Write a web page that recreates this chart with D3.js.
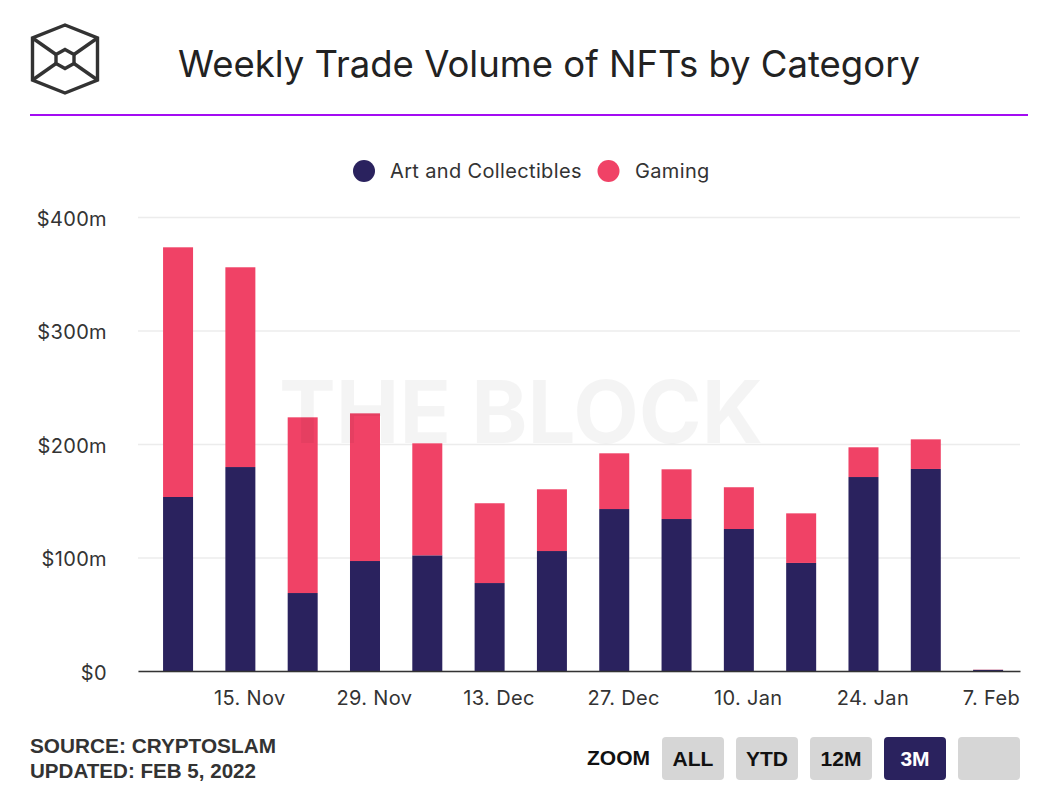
<!DOCTYPE html>
<html>
<head>
<meta charset="utf-8">
<script src="https://cdn.jsdelivr.net/npm/d3@7"></script>
<style>
  html, body { margin: 0; padding: 0; background: #fff; }
  svg { display: block; }
</style>
</head>
<body>
<svg id="chart" width="1052" height="792"></svg>
<script>
// ---- data ----
const weeks = ["2021-11-07","2021-11-14","2021-11-21","2021-11-28","2021-12-05","2021-12-12","2021-12-19","2021-12-26","2022-01-02","2022-01-09","2022-01-16","2022-01-23","2022-01-30","2022-02-06"];
const artAndCollectibles = [153.3, 179.7, 68.7, 96.9, 101.9, 77.5, 105.7, 142.7, 133.9, 125.1, 95.2, 170.9, 178.0, 1.0];
const gaming = [220.0, 176.0, 154.8, 130.1, 98.7, 70.3, 54.4, 49.1, 43.8, 36.8, 43.7, 26.2, 26.1, 0.2];
const seriesNames = ["Art and Collectibles", "Gaming"];
const seriesColors = ["#2a225e", "#f04266"];
const yTicks = [0, 100, 200, 300, 400];
const yTickLabels = ["$0", "$100m", "$200m", "$300m", "$400m"];
const xTickDates = ["2021-11-15","2021-11-29","2021-12-13","2021-12-27","2022-01-10","2022-01-24","2022-02-07"];
const xTickLabels = ["15. Nov", "29. Nov", "13. Dec", "27. Dec", "10. Jan", "24. Jan", "7. Feb"];
const zoomButtons = ["ALL", "YTD", "12M", "3M", ""];
const activeZoom = "3M";

// ---- layout ----
const svg = d3.select("#chart");
const plot = { left: 138, right: 1020, top: 217, bottom: 671 };
const font = "Inter, 'Noto Sans', sans-serif";
const textColor = "#333333";
const labelSize = 20;
const labelSpacing = "0.35px";
const parse = d3.utcParse("%Y-%m-%d");

const data = weeks.map((w, i) => ({ date: parse(w), art: artAndCollectibles[i], gaming: gaming[i] }));

const x = d3.scaleUtc()
  .domain([Date.UTC(2021, 10, 2, 12), Date.UTC(2022, 1, 9, 14)])
  .range([plot.left, plot.right]);
const y = d3.scaleLinear().domain([0, 400]).range([plot.bottom, plot.top]);

// ---- header ----
const logo = svg.append("g").attr("fill", "none").attr("stroke", "#333").attr("stroke-width", 3.4).attr("stroke-linejoin", "miter");
const outer = [[65,25],[97.5,38],[97.5,80],[65,93],[32.5,80],[32.5,38]];
const inner = [[65,49.5],[74,54.5],[74,63.5],[65,68.5],[56,63.5],[56,54.5]];
logo.append("path").attr("d", d3.line()(outer) + "Z");
logo.append("path").attr("d", d3.line()(inner) + "Z");
[[5,5],[1,1],[2,2],[4,4]].forEach(([a, b]) => {
  logo.append("path").attr("d", d3.line()([outer[a], inner[b]]));
});

svg.append("text")
  .attr("x", 549).attr("y", 77)
  .attr("text-anchor", "middle")
  .attr("font-family", font).attr("font-size", 36.5)
  .attr("fill", "#222")
  .text("Weekly Trade Volume of NFTs by Category");

svg.append("rect").attr("x", 30).attr("y", 114).attr("width", 998).attr("height", 2).attr("fill", "#a30cf2");

// ---- legend ----
const legendPos = [{ cx: 364, tx: 390 }, { cx: 608.5, tx: 635 }];
seriesNames.forEach((n, i) => {
  svg.append("circle").attr("cx", legendPos[i].cx).attr("cy", 171).attr("r", 11).attr("fill", seriesColors[i]);
  svg.append("text").attr("x", legendPos[i].tx).attr("y", 178)
    .attr("font-family", font).attr("font-size", labelSize).attr("letter-spacing", labelSpacing)
    .attr("fill", textColor).text(n);
});

// ---- y grid & labels ----
const yAxis = svg.append("g")
  .attr("transform", `translate(${plot.left},0)`)
  .call(d3.axisLeft(y).tickValues(yTicks).tickSize(-(plot.right - plot.left)).tickPadding(31)
    .tickFormat((d, i) => yTickLabels[i]));
yAxis.select(".domain").remove();
yAxis.selectAll(".tick line").attr("stroke", "#ececec").attr("stroke-width", 1.5);
yAxis.selectAll(".tick text").attr("font-family", font).attr("font-size", labelSize)
  .attr("letter-spacing", labelSpacing).attr("fill", textColor).attr("dy", "0.4em");

// ---- bars ----
const stack = d3.stack().keys(["art", "gaming"]);
const stacked = stack(data);
const barWidth = 30;
svg.append("g").selectAll("g").data(stacked).join("g")
  .attr("fill", (d, i) => seriesColors[i])
  .selectAll("rect").data(d => d).join("rect")
  .attr("x", d => x(d.data.date) - barWidth / 2)
  .attr("width", barWidth)
  .attr("y", d => y(d[1]))
  .attr("height", d => Math.max(0, y(d[0]) - y(d[1])));

// ---- watermark ----
svg.append("text")
  .attr("x", 521).attr("y", 443)
  .attr("text-anchor", "middle")
  .attr("font-family", font).attr("font-weight", 700).attr("font-size", 87)
  .attr("textLength", 484).attr("lengthAdjust", "spacingAndGlyphs")
  .attr("fill", "#000").attr("fill-opacity", 0.045)
  .text("THE BLOCK");

// ---- x axis ----
const xAxis = svg.append("g")
  .attr("transform", `translate(0,${plot.bottom})`)
  .call(d3.axisBottom(x).tickValues(xTickDates.map(parse)).tickSize(0).tickSizeOuter(0).tickPadding(20)
    .tickFormat((d, i) => xTickLabels[i]));
xAxis.select(".domain").attr("stroke", "#333").attr("stroke-width", 1.6);
xAxis.selectAll(".tick text").attr("font-family", font).attr("font-size", labelSize)
  .attr("letter-spacing", labelSpacing).attr("fill", textColor).attr("dy", "0.68em");
xAxis.selectAll(".tick").each(function() {
  const t = d3.select(this).select("text");
  const bb = this.getBBox();
  const tr = d3.select(this).attr("transform");
  const tx = +tr.match(/translate\(([-\d.]+)/)[1];
  if (tx + bb.width / 2 > plot.right) {
    t.attr("text-anchor", "end").attr("x", plot.right - tx);
  }
});

// ---- footer ----
const footFont = "'Liberation Sans Narrow', 'Arial Narrow', 'Liberation Sans', sans-serif";
svg.append("text").attr("x", 30).attr("y", 753).attr("font-family", footFont).attr("font-weight", 700)
  .attr("font-size", 20.5).attr("textLength", 246).attr("lengthAdjust", "spacingAndGlyphs")
  .attr("fill", "#333").text("SOURCE: CRYPTOSLAM");
svg.append("text").attr("x", 30).attr("y", 778).attr("font-family", footFont).attr("font-weight", 700)
  .attr("font-size", 20.5).attr("textLength", 226).attr("lengthAdjust", "spacingAndGlyphs")
  .attr("fill", "#333").text("UPDATED: FEB 5, 2022");

svg.append("text").attr("x", 650).attr("y", 765).attr("text-anchor", "end").attr("font-family", footFont)
  .attr("font-weight", 700).attr("font-size", 21).attr("fill", "#111").text("ZOOM");
const btn = svg.append("g").selectAll("g").data(zoomButtons).join("g")
  .attr("transform", (d, i) => `translate(${662 + i * 74},737)`);
btn.append("rect").attr("width", 62).attr("height", 43).attr("rx", 4)
  .attr("fill", d => d === activeZoom ? "#2a225e" : "#d6d6d6");
btn.append("text").attr("x", 31).attr("y", 29).attr("text-anchor", "middle")
  .attr("font-family", footFont).attr("font-weight", 700).attr("font-size", 21)
  .attr("fill", d => d === activeZoom ? "#fff" : "#111").text(d => d);
</script>
</body>
</html>
